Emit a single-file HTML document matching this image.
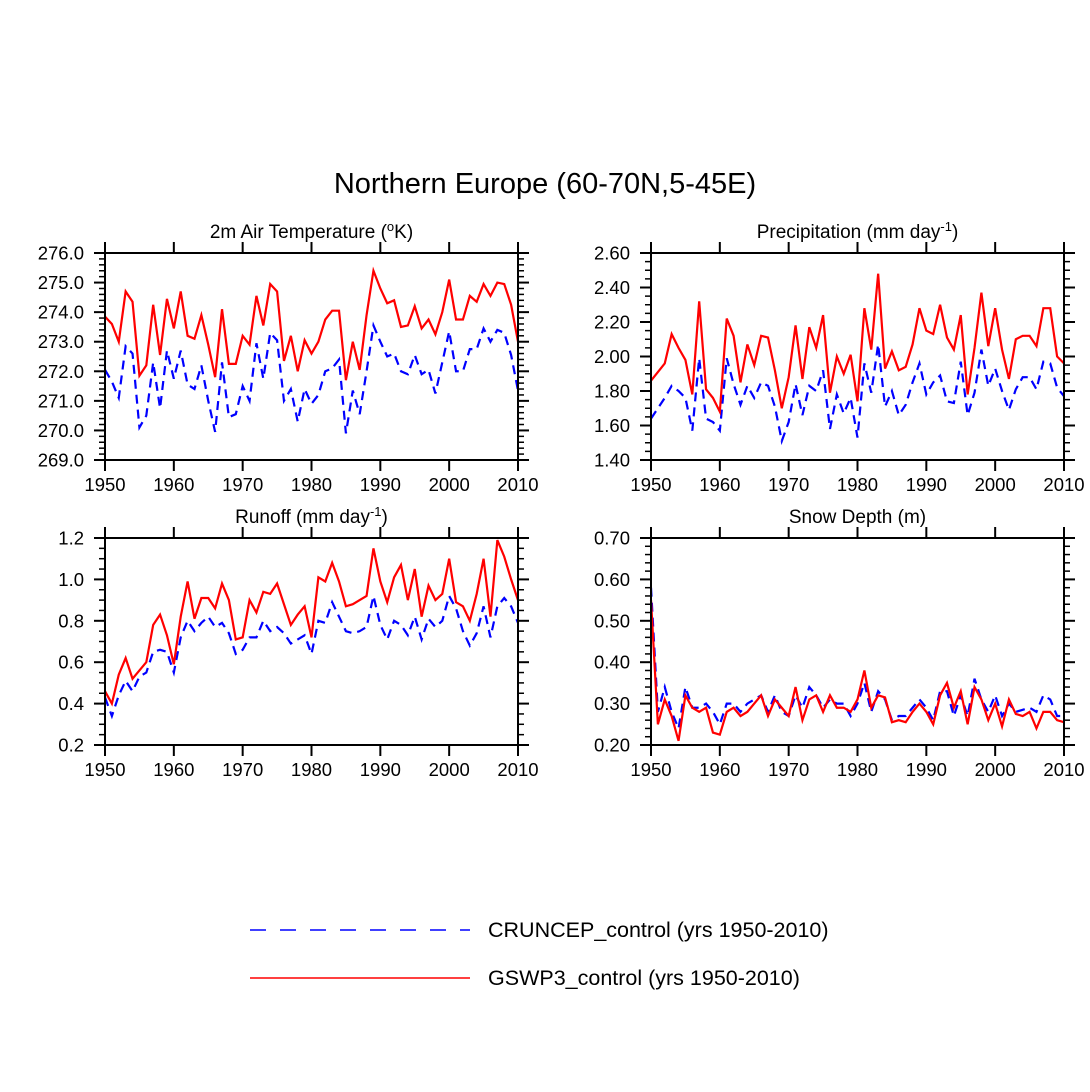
<!DOCTYPE html>
<html><head><meta charset="utf-8">
<style>
body{margin:0;background:#fff;}
svg{display:block;font-family:"Liberation Sans",sans-serif;}
</style></head>
<body>
<svg id="chart" width="1090" height="1092" xmlns="http://www.w3.org/2000/svg">
<text x="545" y="193" font-size="29" text-anchor="middle">Northern Europe (60-70N,5-45E)</text>
<g>
<line x1="250" y1="930" x2="470" y2="930" stroke="#00f" stroke-width="1.5" stroke-dasharray="16,14"/>
<text x="488" y="937" font-size="21.5">CRUNCEP_control (yrs 1950-2010)</text>
<line x1="250" y1="978" x2="470" y2="978" stroke="#f00" stroke-width="1.5"/>
<text x="488" y="985" font-size="21.5">GSWP3_control (yrs 1950-2010)</text>
</g>
</svg>
<script>
const years=[];for(let y=1950;y<=2010;y++)years.push(y);
const tempRed=[273.85,273.6,273.0,274.7,274.35,271.85,272.2,274.25,272.55,274.45,273.45,274.7,273.2,273.1,273.9,272.9,271.8,274.1,272.25,272.25,273.2,272.9,274.55,273.55,274.95,274.7,272.35,273.2,272.0,273.05,272.6,273.0,273.75,274.05,274.05,271.7,273.0,272.05,273.9,275.4,274.8,274.3,274.4,273.5,273.55,274.2,273.45,273.75,273.25,274.0,275.1,273.75,273.75,274.55,274.35,274.95,274.55,275.0,274.95,274.25,273.0];
const tempBlue=[272.05,271.65,271.1,272.85,272.6,270.1,270.5,272.3,270.75,272.7,271.75,272.7,271.55,271.4,272.2,271.0,269.95,272.3,270.45,270.55,271.5,271.0,272.95,271.75,273.3,273.05,271.0,271.4,270.3,271.4,270.9,271.2,272.0,272.1,272.4,269.9,271.35,270.55,272.0,273.55,273.0,272.5,272.6,272.0,271.9,272.55,271.9,272.05,271.25,272.3,273.35,272.0,272.0,272.75,272.75,273.45,273.0,273.4,273.3,272.55,271.35];
const precRed=[1.86,1.91,1.96,2.13,2.05,1.98,1.78,2.32,1.81,1.76,1.68,2.22,2.12,1.85,2.07,1.95,2.12,2.11,1.92,1.70,1.88,2.18,1.87,2.17,2.05,2.24,1.79,2.00,1.90,2.01,1.74,2.28,2.04,2.48,1.93,2.03,1.92,1.94,2.07,2.28,2.15,2.13,2.30,2.11,2.04,2.24,1.78,2.05,2.37,2.06,2.28,2.04,1.87,2.10,2.12,2.12,2.06,2.28,2.28,2.00,1.96];
const precBlue=[1.64,1.70,1.76,1.83,1.80,1.76,1.57,1.99,1.64,1.62,1.57,1.99,1.84,1.72,1.83,1.76,1.85,1.83,1.71,1.51,1.62,1.84,1.66,1.83,1.80,1.92,1.58,1.78,1.67,1.76,1.53,1.96,1.79,2.07,1.71,1.80,1.66,1.72,1.85,1.96,1.78,1.85,1.89,1.74,1.73,1.97,1.66,1.79,2.04,1.83,1.93,1.80,1.69,1.81,1.88,1.88,1.81,1.97,1.96,1.82,1.77];
const runRed=[0.46,0.40,0.54,0.62,0.52,0.56,0.60,0.78,0.83,0.73,0.59,0.82,0.99,0.81,0.91,0.91,0.86,0.98,0.90,0.71,0.72,0.90,0.84,0.94,0.93,0.98,0.88,0.78,0.83,0.87,0.72,1.01,0.99,1.08,0.99,0.87,0.88,0.90,0.92,1.15,0.99,0.89,1.01,1.07,0.90,1.05,0.82,0.97,0.90,0.93,1.10,0.89,0.87,0.80,0.93,1.10,0.82,1.19,1.11,1.00,0.90];
const runBlue=[0.43,0.34,0.44,0.51,0.46,0.53,0.55,0.65,0.66,0.65,0.55,0.72,0.80,0.75,0.79,0.82,0.77,0.79,0.74,0.64,0.66,0.72,0.72,0.80,0.75,0.77,0.74,0.69,0.71,0.73,0.64,0.80,0.79,0.89,0.82,0.75,0.74,0.75,0.77,0.92,0.78,0.71,0.80,0.78,0.73,0.82,0.71,0.81,0.77,0.80,0.92,0.86,0.75,0.68,0.74,0.87,0.72,0.87,0.91,0.87,0.79];
const snowRed=[0.55,0.25,0.31,0.27,0.21,0.32,0.29,0.28,0.29,0.23,0.225,0.28,0.29,0.27,0.28,0.30,0.32,0.27,0.31,0.29,0.27,0.34,0.26,0.31,0.32,0.28,0.32,0.29,0.29,0.28,0.31,0.38,0.29,0.32,0.315,0.255,0.26,0.255,0.28,0.30,0.28,0.25,0.32,0.35,0.29,0.33,0.25,0.34,0.31,0.26,0.30,0.245,0.31,0.275,0.27,0.28,0.24,0.28,0.28,0.26,0.255];
const snowBlue=[0.58,0.28,0.34,0.28,0.24,0.34,0.29,0.29,0.30,0.28,0.25,0.30,0.30,0.28,0.30,0.31,0.32,0.28,0.32,0.28,0.27,0.32,0.29,0.34,0.32,0.29,0.31,0.30,0.30,0.27,0.30,0.35,0.28,0.33,0.31,0.26,0.27,0.27,0.29,0.31,0.29,0.26,0.33,0.33,0.27,0.32,0.27,0.36,0.31,0.28,0.32,0.27,0.30,0.28,0.285,0.29,0.28,0.32,0.31,0.27,0.27];
const xTicks=[1950,1960,1970,1980,1990,2000,2010];

const NS="http://www.w3.org/2000/svg";
const svg=document.getElementById('chart');
function mk(tag,at,parent){const e=document.createElementNS(NS,tag);for(const k in at)e.setAttribute(k,at[k]);(parent||svg).appendChild(e);return e;}

function panel(name,x0,y0,title,sup,titleEnd,ymin,ymax,major,minorN,dec,red,blue){
  const W=413,H=207;
  const g=mk('g',{});
  
  
  const sx=v=>x0+(v-1950)/60*W, sy=v=>y0+H-(v-ymin)/(ymax-ymin)*H;
  const t=mk('text',{x:x0+W/2,y:y0-15,'font-size':19,'text-anchor':'middle'},g);
  
  
  t.appendChild(document.createTextNode(title));
  if(sup){const s=mk('tspan',{'font-size':13,dy:-7},t);s.textContent=sup;const e=mk('tspan',{dy:7},t);e.textContent=titleEnd;}
  const ptsB=years.map((y,i)=>sx(y)+','+sy(blue[i])).join(' ');
  const pb=mk('polyline',{points:ptsB,fill:'none',stroke:'#00f','stroke-width':2.2,'stroke-dasharray':'9,6'},g);
  
  
  const ptsR=years.map((y,i)=>sx(y)+','+sy(red[i])).join(' ');
  const pr=mk('polyline',{points:ptsR,fill:'none',stroke:'#f00','stroke-width':2.2},g);
  
  
  mk('rect',{x:x0,y:y0,width:W,height:H,fill:'none',stroke:'#000','stroke-width':2},g);
  xTicks.forEach(v=>{const x=sx(v);
    mk('line',{x1:x,y1:y0+H,x2:x,y2:y0+H+11,stroke:'#000','stroke-width':2},g);
    mk('line',{x1:x,y1:y0,x2:x,y2:y0-11,stroke:'#000','stroke-width':2},g);
    const l=mk('text',{x:x,y:y0+H+31,'font-size':18.5,'text-anchor':'middle'},g);
    
    
    l.textContent=v;});
  const n=Math.round((ymax-ymin)/major);
  for(let i=0;i<=n;i++){const v=ymin+i*major,y=sy(v);
    mk('line',{x1:x0,y1:y,x2:x0-11,y2:y,stroke:'#000','stroke-width':2},g);
    mk('line',{x1:x0+W,y1:y,x2:x0+W+11,y2:y,stroke:'#000','stroke-width':2},g);
    const l=mk('text',{x:x0-21,y:y+6.5,'font-size':18.5,'text-anchor':'end'},g);
    
    
    l.textContent=v.toFixed(dec);
    if(i<n)for(let j=1;j<minorN;j++){const ym=sy(v+major*j/minorN);
      mk('line',{x1:x0,y1:ym,x2:x0-6,y2:ym,stroke:'#000','stroke-width':1.5},g);
      mk('line',{x1:x0+W,y1:ym,x2:x0+W+6,y2:ym,stroke:'#000','stroke-width':1.5},g);}
  }
}
panel('temperature',105,253,'2m Air Temperature (','o','K)',269,276,1,5,1,tempRed,tempBlue);
panel('precipitation',651,253,'Precipitation (mm day','-1',')',1.4,2.6,0.2,4,2,precRed,precBlue);
panel('runoff',105,538,'Runoff (mm day','-1',')',0.2,1.2,0.2,4,1,runRed,runBlue);
panel('snow-depth',651,538,'Snow Depth (m)',null,'',0.2,0.7,0.1,5,2,snowRed,snowBlue);
</script>
</body></html>
